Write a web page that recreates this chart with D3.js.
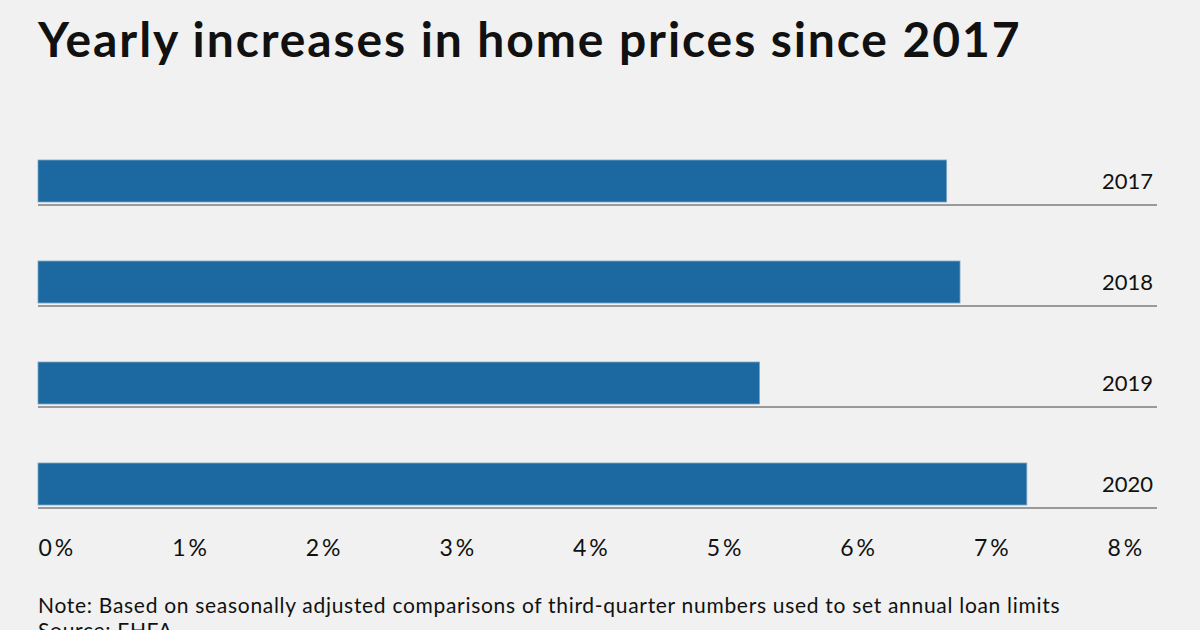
<!DOCTYPE html>
<html>
<head>
<meta charset="utf-8">
<script src="https://cdn.jsdelivr.net/npm/d3@7"></script>
<style>
  body { margin: 0; background: #f0f1f0; }
  svg { display: block; font-family: "Lato", "Open Sans", sans-serif; }
</style>
</head>
<body>
<svg id="chart"></svg>
<script>
const years = ["2017", "2018", "2019", "2020"];
const increases = [6.8, 6.9, 5.4, 7.4];
const ticks = [0, 1, 2, 3, 4, 5, 6, 7, 8];

const width = 1200;
const height = 630;

const svg = d3.select("#chart")
    .attr("width", width)
    .attr("height", height);

svg.append("rect")
    .attr("width", width)
    .attr("height", height)
    .attr("fill", "#f0f1f0");

svg.append("text")
    .attr("x", 38)
    .attr("y", 57)
    .attr("font-size", 48)
    .attr("font-weight", 700)
    .attr("letter-spacing", 1.9)
    .attr("fill", "#111")
    .text("Yearly increases in home prices since 2017");

const x = d3.scaleLinear()
    .domain([0, 8])
    .range([38, 1107]);

// each row: bar on top, baseline rule under it
const y = d3.scaleBand()
    .domain(years)
    .range([150, 554])
    .paddingInner(0)
    .paddingOuter(0);

const rows = svg.selectAll("g.row")
    .data(years.map((d, i) => ({ year: d, value: increases[i] })))
    .enter()
    .append("g")
    .attr("class", "row")
    .attr("transform", d => "translate(0," + y(d.year) + ")");

rows.append("rect")
    .attr("x", x(0))
    .attr("y", 10)
    .attr("width", d => x(d.value) - x(0))
    .attr("height", 42)
    .attr("fill", "#1b69a0")
    .attr("stroke", "#7fa6c4")
    .attr("stroke-width", 0.8);

rows.append("line")
    .attr("x1", x(0))
    .attr("x2", 1157)
    .attr("y1", 55)
    .attr("y2", 55)
    .attr("stroke", "#7d7d7d")
    .attr("stroke-width", 1.5);

rows.append("text")
    .attr("x", 1153)
    .attr("y", 39)
    .attr("text-anchor", "end")
    .attr("font-size", 22)
    .attr("fill", "#111")
    .text(d => d.year);

const axis = d3.axisBottom(x)
    .tickValues(ticks)
    .tickSize(0)
    .tickFormat(d => d + "%");

const ax = svg.append("g")
    .attr("transform", "translate(0,531)")
    .call(axis);

ax.select(".domain").remove();
ax.selectAll("text")
    .attr("text-anchor", "start")
    .attr("dy", 0)
    .attr("y", 25)
    .attr("font-size", 23)
    .attr("letter-spacing", 3)
    .attr("font-family", "Lato, 'Open Sans', sans-serif")
    .attr("fill", "#111");

svg.append("text")
    .attr("x", 38)
    .attr("y", 613)
    .attr("font-size", 21)
    .attr("letter-spacing", 0.7)
    .attr("fill", "#111")
    .text("Note: Based on seasonally adjusted comparisons of third-quarter numbers used to set annual loan limits");

svg.append("text")
    .attr("x", 38)
    .attr("y", 638)
    .attr("font-size", 21)
    .attr("letter-spacing", 0.7)
    .attr("fill", "#111")
    .text("Source: FHFA");
</script>
</body>
</html>
